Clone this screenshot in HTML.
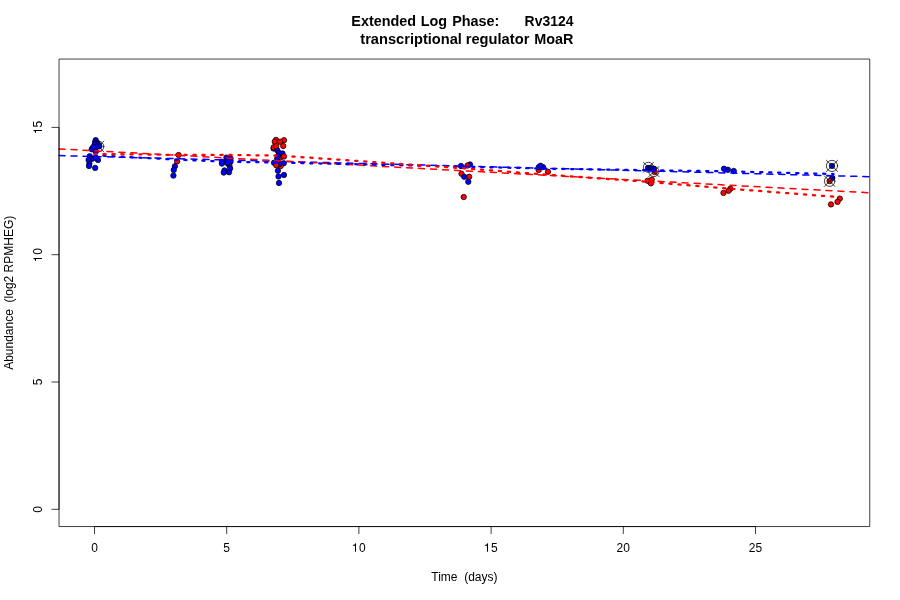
<!DOCTYPE html>
<html><head><meta charset="utf-8"><title>Rv3124</title>
<style>
html,body{margin:0;padding:0;background:#fff;}
svg{display:block;will-change:transform;font-family:"Liberation Sans",sans-serif;font-size:12px;fill:#000;}
.pt circle{stroke:#000;stroke-width:.75;}
.xs circle,.xs path{fill:none;stroke:#000;stroke-width:.75;stroke-linecap:round;}
.ln{fill:none;stroke:#000;stroke-width:.75;}
.dash{fill:none;stroke-width:1.5;stroke-dasharray:6 6;stroke-linecap:round;}
.dot{fill:none;stroke-width:2.25;stroke-dasharray:2.25 6.75;stroke-linecap:round;stroke-linejoin:round;}
text{white-space:pre;}
.ttl{font-size:14.4px;font-weight:bold;}
</style></head><body>
<svg width="900" height="600" viewBox="0 0 900 600">
<rect width="900" height="600" fill="#fff"/>
<g class="pt">
<circle cx="95.75" cy="140.10" r="2.7" fill="#0000ff"/>
<circle cx="95.00" cy="142.40" r="2.7" fill="#0000ff"/>
<circle cx="97.25" cy="143.10" r="2.7" fill="#0000ff"/>
<circle cx="98.40" cy="144.80" r="2.7" fill="#0000ff"/>
</g>
<g class="xs"><circle cx="98.40" cy="146.50" r="5.45"/><path d="M92.95 141.05L103.85 151.95M92.95 151.95L103.85 141.05"/></g>
<g class="pt">
<circle cx="99.40" cy="146.30" r="2.7" fill="#0000ff"/>
<circle cx="94.60" cy="145.00" r="2.7" fill="#0000ff"/>
<circle cx="96.50" cy="146.90" r="2.7" fill="#0000ff"/>
<circle cx="91.70" cy="149.20" r="2.7" fill="#0000ff"/>
<circle cx="93.20" cy="147.20" r="2.7" fill="#0000ff"/>
<circle cx="95.75" cy="151.40" r="2.7" fill="#0000ff"/>
<circle cx="89.75" cy="156.25" r="2.7" fill="#0000ff"/>
<circle cx="92.00" cy="158.90" r="2.7" fill="#0000ff"/>
<circle cx="88.60" cy="160.00" r="2.7" fill="#0000ff"/>
<circle cx="98.00" cy="160.00" r="2.7" fill="#0000ff"/>
<circle cx="95.75" cy="157.75" r="2.7" fill="#0000ff"/>
<circle cx="89.40" cy="163.75" r="2.7" fill="#0000ff"/>
<circle cx="89.00" cy="166.00" r="2.7" fill="#0000ff"/>
<circle cx="95.15" cy="167.90" r="2.7" fill="#0000ff"/>
<circle cx="178.60" cy="155.00" r="2.7" fill="#ff0000"/>
<circle cx="177.10" cy="161.40" r="2.7" fill="#ff0000"/>
<circle cx="174.90" cy="166.25" r="2.7" fill="#0000ff"/>
<circle cx="173.75" cy="170.00" r="2.7" fill="#0000ff"/>
<circle cx="173.40" cy="175.60" r="2.7" fill="#0000ff"/>
<circle cx="229.40" cy="165.50" r="2.7" fill="#ff0000"/>
<circle cx="226.40" cy="157.60" r="2.7" fill="#0000ff"/>
<circle cx="230.50" cy="158.40" r="2.7" fill="#0000ff"/>
<circle cx="221.90" cy="161.75" r="2.7" fill="#0000ff"/>
<circle cx="226.40" cy="161.75" r="2.7" fill="#0000ff"/>
<circle cx="230.50" cy="161.75" r="2.7" fill="#0000ff"/>
<circle cx="221.90" cy="163.60" r="2.7" fill="#0000ff"/>
<circle cx="227.50" cy="163.25" r="2.7" fill="#0000ff"/>
<circle cx="230.10" cy="168.50" r="2.7" fill="#0000ff"/>
<circle cx="224.50" cy="170.40" r="2.7" fill="#0000ff"/>
<circle cx="223.75" cy="172.60" r="2.7" fill="#0000ff"/>
<circle cx="229.00" cy="172.25" r="2.7" fill="#0000ff"/>
<circle cx="280.50" cy="157.50" r="2.7" fill="#ff0000"/>
<circle cx="273.50" cy="148.50" r="2.7" fill="#0000ff"/>
<circle cx="277.25" cy="150.25" r="2.7" fill="#0000ff"/>
<circle cx="282.50" cy="153.50" r="2.7" fill="#0000ff"/>
<circle cx="279.00" cy="153.00" r="2.7" fill="#0000ff"/>
<circle cx="278.00" cy="156.00" r="2.7" fill="#0000ff"/>
<circle cx="277.25" cy="158.50" r="2.7" fill="#0000ff"/>
<circle cx="273.75" cy="147.25" r="2.7" fill="#ff0000"/>
<circle cx="276.00" cy="139.90" r="2.7" fill="#ff0000"/>
<circle cx="284.00" cy="140.20" r="2.7" fill="#ff0000"/>
<circle cx="274.75" cy="141.70" r="2.7" fill="#ff0000"/>
<circle cx="280.00" cy="141.70" r="2.7" fill="#ff0000"/>
<circle cx="283.25" cy="146.00" r="2.7" fill="#ff0000"/>
<circle cx="276.25" cy="146.25" r="2.7" fill="#ff0000"/>
<circle cx="284.00" cy="156.50" r="2.7" fill="#ff0000"/>
<circle cx="274.00" cy="162.75" r="2.7" fill="#0000ff"/>
<circle cx="283.75" cy="163.25" r="2.7" fill="#0000ff"/>
<circle cx="278.00" cy="162.50" r="2.7" fill="#0000ff"/>
<circle cx="280.75" cy="166.00" r="2.7" fill="#ff0000"/>
<circle cx="279.00" cy="164.20" r="2.7" fill="#0000ff"/>
<circle cx="276.25" cy="165.25" r="2.7" fill="#ff0000"/>
<circle cx="277.90" cy="170.75" r="2.7" fill="#0000ff"/>
<circle cx="284.00" cy="175.00" r="2.7" fill="#0000ff"/>
<circle cx="278.50" cy="176.50" r="2.7" fill="#0000ff"/>
<circle cx="279.00" cy="183.00" r="2.7" fill="#0000ff"/>
<circle cx="470.00" cy="164.50" r="2.7" fill="#0000ff"/>
<circle cx="467.50" cy="165.50" r="2.7" fill="#ff0000"/>
<circle cx="461.00" cy="166.00" r="2.7" fill="#0000ff"/>
<circle cx="461.50" cy="173.80" r="2.7" fill="#ff0000"/>
<circle cx="469.20" cy="176.80" r="2.7" fill="#ff0000"/>
<circle cx="464.20" cy="176.80" r="2.7" fill="#0000ff"/>
<circle cx="468.30" cy="181.80" r="2.7" fill="#0000ff"/>
<circle cx="463.70" cy="197.00" r="2.7" fill="#ff0000"/>
<circle cx="538.70" cy="170.00" r="2.7" fill="#ff0000"/>
<circle cx="548.00" cy="171.80" r="2.7" fill="#ff0000"/>
<circle cx="538.80" cy="167.10" r="2.7" fill="#0000ff"/>
<circle cx="543.00" cy="167.10" r="2.7" fill="#0000ff"/>
<circle cx="540.50" cy="165.80" r="2.7" fill="#0000ff"/>
<circle cx="654.70" cy="172.10" r="2.7" fill="#ff0000"/>
<circle cx="648.00" cy="167.90" r="2.7" fill="#0000ff"/>
<circle cx="650.50" cy="167.90" r="2.7" fill="#0000ff"/>
<circle cx="653.80" cy="168.75" r="2.7" fill="#0000ff"/>
<circle cx="647.60" cy="180.80" r="2.7" fill="#ff0000"/>
<circle cx="651.75" cy="179.60" r="2.7" fill="#ff0000"/>
<circle cx="650.90" cy="183.30" r="2.7" fill="#ff0000"/>
<circle cx="733.75" cy="171.00" r="2.7" fill="#0000ff"/>
<circle cx="727.90" cy="169.80" r="2.7" fill="#0000ff"/>
<circle cx="724.00" cy="168.75" r="2.7" fill="#0000ff"/>
<circle cx="723.50" cy="192.90" r="2.7" fill="#ff0000"/>
<circle cx="730.40" cy="188.75" r="2.7" fill="#ff0000"/>
<circle cx="728.60" cy="190.80" r="2.7" fill="#ff0000"/>
<circle cx="832.00" cy="165.90" r="2.7" fill="#0000ff"/>
<circle cx="832.30" cy="178.00" r="2.7" fill="#0000ff"/>
<circle cx="829.60" cy="181.10" r="2.7" fill="#ff0000"/>
<circle cx="831.00" cy="204.40" r="2.7" fill="#ff0000"/>
<circle cx="839.80" cy="198.60" r="2.7" fill="#ff0000"/>
<circle cx="837.50" cy="201.90" r="2.7" fill="#ff0000"/>
</g>
<g class="xs"><circle cx="648.40" cy="167.30" r="5.05"/><path d="M643.35 162.25L653.45 172.35M643.35 172.35L653.45 162.25"/></g>
<g class="xs"><circle cx="653.90" cy="171.50" r="5.1"/><path d="M648.80 166.40L659.00 176.60M648.80 176.60L659.00 166.40"/></g>
<g class="xs"><circle cx="832.00" cy="165.90" r="5.6"/><path d="M826.40 160.30L837.60 171.50M826.40 171.50L837.60 160.30"/></g>
<g class="xs"><circle cx="829.65" cy="181.15" r="5.25"/><path d="M824.40 175.90L834.90 186.40M824.40 186.40L834.90 175.90"/></g>
<path class="dash" stroke="#0000ff" d="M59.04 155.6L869.76 176.7"/>
<path class="dash" stroke="#ff0000" d="M59.04 148.9L869.76 192.8"/>
<path class="dot" stroke="#0000ff" d="M94.4 155.2L173.6 159.5L226.4 161.7L279.2 162.6L464 166.6L543.2 168.6L648.8 170.2L728 171.4L833.6 174"/>
<path class="dot" stroke="#ff0000" d="M94.4 153.9L173.6 154.9L226.4 154.9L279.2 155.6L464 168.3L543.2 174.4L648.8 181.9L728 188.6L833.6 196.7"/>
<path class="ln" d="M59.04 526.56L869.76 526.56L869.76 59.04L59.04 59.04Z"/>
<path class="ln" d="M94.50 526.56L755.50 526.56M94.50 526.56v7.5M226.70 526.56v7.5M358.90 526.56v7.5M491.10 526.56v7.5M623.30 526.56v7.5M755.50 526.56v7.5"/>
<path class="ln" d="M59.04 509.30L59.04 127.40M59.04 509.30h-7.5M59.04 382.00h-7.5M59.04 254.70h-7.5M59.04 127.40h-7.5"/>
<text x="94.50" y="551.8" text-anchor="middle">0</text>
<text x="226.70" y="551.8" text-anchor="middle">5</text>
<path d="M359 0L271 0L271 505L102 505L102 568C224 577 264 601 299 709L359 709Z" transform="translate(351.72 551.80) scale(.012 -.012)"/>
<text x="358.90" y="551.8">0</text>
<path d="M359 0L271 0L271 505L102 505L102 568C224 577 264 601 299 709L359 709Z" transform="translate(483.72 551.80) scale(.012 -.012)"/>
<text x="491.10" y="551.8">5</text>
<text x="623.30" y="551.8" text-anchor="middle">20</text>
<text x="755.50" y="551.8" text-anchor="middle">25</text>
<text transform="translate(42 509.30) rotate(-90)" text-anchor="middle">0</text>
<text transform="translate(42 382.00) rotate(-90)" text-anchor="middle">5</text>
<g transform="translate(42 254.70) rotate(-90)"><path d="M359 0L271 0L271 505L102 505L102 568C224 577 264 601 299 709L359 709Z" transform="translate(-7.58 0.00) scale(.012 -.012)"/><text x="0" y="0">0</text></g>
<g transform="translate(42 127.40) rotate(-90)"><path d="M359 0L271 0L271 505L102 505L102 568C224 577 264 601 299 709L359 709Z" transform="translate(-6.88 0.00) scale(.012 -.012)"/><text x="0" y="0">5</text></g>
<text x="464.4" y="580.6" text-anchor="middle" xml:space="preserve">Time  (days)</text>
<text transform="translate(13.2 292.8) rotate(-90)" text-anchor="middle" xml:space="preserve">Abundance  (log2 RPMHEG)</text>
<text class="ttl" transform="translate(351.3 25.5) scale(1 1.05)">Extended</text>
<text class="ttl" transform="translate(420.7 25.5) scale(1 1.05)">Log</text>
<text class="ttl" transform="translate(452.2 25.5) scale(1 1.05)">Phase:</text>
<text class="ttl" transform="translate(524.6 25.5) scale(1 1.05)" textLength="48.8" lengthAdjust="spacingAndGlyphs">Rv3124</text>
<text class="ttl" transform="translate(360.3 43.5) scale(1 1.05)" textLength="101.6" lengthAdjust="spacingAndGlyphs">transcriptional</text>
<text class="ttl" transform="translate(465.75 43.5) scale(1 1.05)" textLength="63.6" lengthAdjust="spacingAndGlyphs">regulator</text>
<text class="ttl" transform="translate(534.2 43.5) scale(1 1.05)">MoaR</text>
</svg>
</body></html>
